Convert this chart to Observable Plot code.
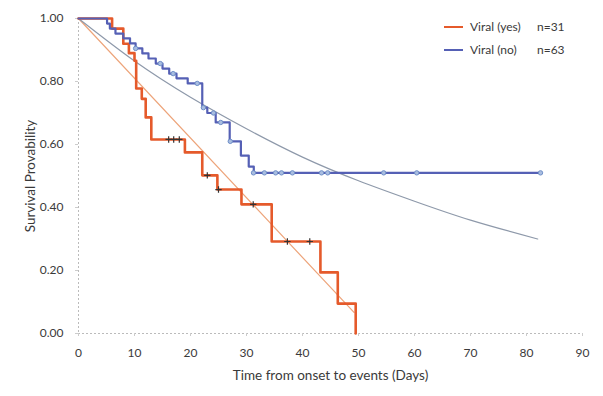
<!DOCTYPE html>
<html>
<head>
<meta charset="utf-8">
<script src="https://cdn.jsdelivr.net/npm/d3@7"></script>
<script src="https://cdn.jsdelivr.net/npm/@observablehq/plot@0.6"></script>
<style>
  html, body { margin: 0; padding: 0; background: #fff; }
  #wrap { position: relative; width: 603px; height: 396px; font-family: Lato, "Open Sans", sans-serif; }
  #legend { position: absolute; left: 444px; top: 15px; font-size: 12px; color: #3a3a3a; }
  .row { display: flex; align-items: center; height: 23px; }
  .sw { width: 19px; height: 2px; margin-right: 7px; }
  .lab { width: 67px; }
</style>
</head>
<body>
<div id="wrap">
  <div id="chart"></div>
  <div id="legend"></div>
</div>
<script>
// Kaplan-Meier: Viral (yes), n=31
const yesTimes = [0, 6.0, 8.0, 9.0, 10.0, 10.3, 11.3, 12.0, 13.0, 19.0, 22.1, 24.8, 29.1, 34.5, 43.2, 46.3, 49.5];
const yesSurv  = [1.00, 0.968, 0.92, 0.89, 0.866, 0.778, 0.745, 0.686, 0.616, 0.575, 0.502, 0.457, 0.41, 0.292, 0.194, 0.095, 0.0];
const yesCensorTimes = [16.1, 17.0, 18.0, 23.0, 25.0, 31.2, 37.3, 41.3];
const yesCensorSurv  = [0.616, 0.616, 0.616, 0.502, 0.457, 0.41, 0.292, 0.292];

// Kaplan-Meier: Viral (no), n=63
const noTimes = [0, 5.1, 5.6, 6.6, 8.0, 9.2, 10.2, 11.4, 12.5, 13.8, 15.0, 16.2, 17.5, 19.5, 22.1, 23.0, 24.5, 27.0, 29.0, 30.4, 31.3, 82.5];
const noSurv  = [1.00, 0.984, 0.968, 0.952, 0.937, 0.921, 0.905, 0.889, 0.873, 0.857, 0.841, 0.825, 0.810, 0.794, 0.717, 0.70, 0.67, 0.61, 0.565, 0.53, 0.51, 0.51];
const noCensorTimes = [10.2, 14.6, 16.9, 21.2, 22.3, 24.1, 25.4, 27.1, 31.25, 33.2, 35.2, 36.25, 38.2, 43.4, 44.5, 54.5, 60.4, 82.5];
const noCensorSurv  = [0.905, 0.857, 0.825, 0.794, 0.717, 0.70, 0.67, 0.61, 0.51, 0.51, 0.51, 0.51, 0.51, 0.51, 0.51, 0.51, 0.51, 0.51];

// Fitted curves
const yesFitTimes = [0, 49.2];
const yesFitSurv  = [1.0, 0.067];
const noFitTimes = [0, 10, 20, 30, 40, 50, 60, 70, 82];
const noFitSurv  = [1.0, 0.865, 0.75, 0.65, 0.56, 0.485, 0.42, 0.36, 0.30];

const xTicks = [0, 10, 20, 30, 40, 50, 60, 70, 80, 90];
const yTicks = [0, 0.2, 0.4, 0.6, 0.8, 1.0];
const seriesNames = ["Viral (yes)", "Viral (no)"];
const seriesN = ["n=31", "n=63"];

const RED = "#E55A2B", BLUE = "#5560B5", ORANGE = "#EDA47A", GRAY = "#8E99AA";

const zip = (t, s) => t.map((d, i) => ({t: d, s: s[i]}));
const yes = zip(yesTimes, yesSurv), no = zip(noTimes, noSurv);
const yesC = zip(yesCensorTimes, yesCensorSurv), noC = zip(noCensorTimes, noCensorSurv);
const yesFit = zip(yesFitTimes, yesFitSurv), noFit = zip(noFitTimes, noFitSurv);

const chart = Plot.plot({
  width: 603, height: 396,
  marginLeft: 78, marginRight: 21, marginTop: 18, marginBottom: 63,
  style: {fontFamily: "Lato, 'Open Sans', sans-serif", fontSize: "12px", color: "#3a3a3a", background: "#fff"},
  x: {domain: [0, 90], ticks: xTicks},
  y: {domain: [0, 1], ticks: yTicks, tickFormat: d3.format(".2f")},
  marks: [
    Plot.ruleX([0], {stroke: "#bbb", strokeDasharray: "2,2"}),
    Plot.ruleY([0], {stroke: "#bbb", strokeDasharray: "2,2"}),
    Plot.axisX({ticks: xTicks, tickSize: 3, stroke: "#ccc", tickPadding: 12, fill: "#3a3a3a", label: null}),
    Plot.axisX({ticks: [], tickSize: 0, fill: "#3a3a3a", fontSize: 13.5,
      label: "Time from onset to events (Days)", labelAnchor: "center", labelArrow: "none", labelOffset: 46}),
    Plot.axisY({ticks: yTicks, tickSize: 3, stroke: "#ccc", tickPadding: 12, tickFormat: d3.format(".2f"), fill: "#3a3a3a", label: null}),
    Plot.axisY({ticks: [], tickSize: 0, fill: "#3a3a3a", fontSize: 13.5,
      label: "Survival Provability", labelAnchor: "center", labelArrow: "none", labelOffset: 53}),
    Plot.line(yesFit, {x: "t", y: "s", stroke: ORANGE, strokeWidth: 1.2}),
    Plot.line(noFit, {x: "t", y: "s", stroke: GRAY, strokeWidth: 1.2, curve: "natural"}),
    Plot.line(yes, {x: "t", y: "s", stroke: RED, strokeWidth: 2.6, curve: "step-after"}),
    Plot.line(no, {x: "t", y: "s", stroke: BLUE, strokeWidth: 2.2, curve: "step-after"}),
    Plot.dot(noC, {x: "t", y: "s", r: 2.2, stroke: "#6f8fc8", fill: "#a9bde0", strokeWidth: 1}),
    Plot.dot(yesC, {x: "t", y: "s", r: 2.2, symbol: "plus", stroke: "#333", strokeWidth: 1.2})
  ]
});
document.getElementById("chart").appendChild(chart);

const legend = document.getElementById("legend");
[RED, BLUE].forEach((c, i) => {
  const row = document.createElement("div");
  row.className = "row";
  row.innerHTML = `<div class="sw" style="background:${c}"></div><div class="lab">${seriesNames[i]}</div><div>${seriesN[i]}</div>`;
  legend.appendChild(row);
});
</script>
</body>
</html>
